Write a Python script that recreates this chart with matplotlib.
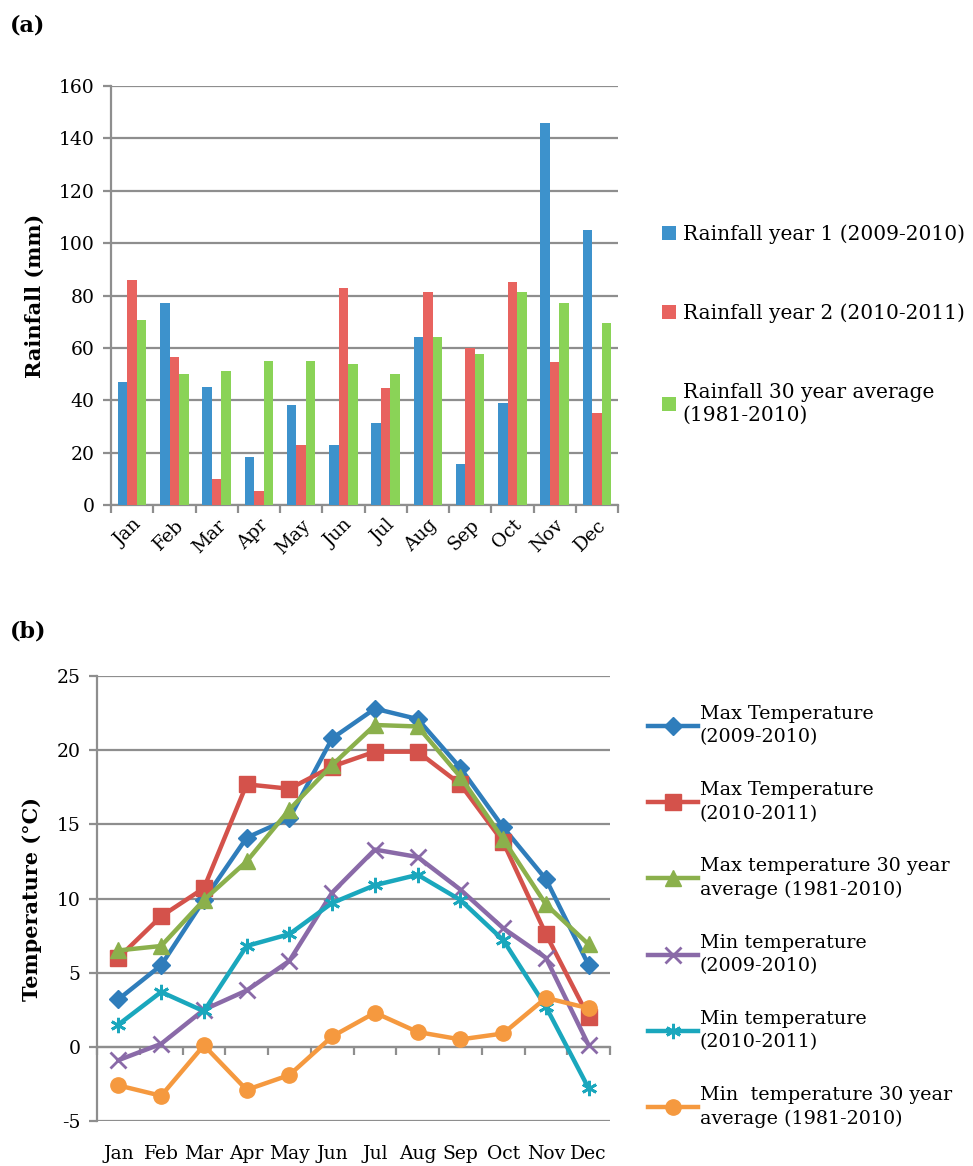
import matplotlib
matplotlib.use("Agg")
import matplotlib.pyplot as plt
import matplotlib.transforms as mtransforms
import numpy as np

plt.rcParams['font.family'] = ['DejaVu Serif']
plt.rcParams['axes.unicode_minus'] = False

months = ['Jan', 'Feb', 'Mar', 'Apr', 'May', 'Jun', 'Jul', 'Aug', 'Sep', 'Oct', 'Nov', 'Dec']

# panel (a) rainfall, mm
rain_y1 = [47, 77, 45, 18.5, 38, 23, 31.5, 64, 15.5, 39, 146, 105]
rain_y2 = [86, 56.5, 10, 5.5, 23, 83, 44.5, 81.5, 60, 85, 54.5, 35]
rain_avg = [70.5, 50, 51, 55, 55, 54, 50, 64, 57.5, 81.5, 77, 69.5]
rain_labels = ['Rainfall year 1 (2009-2010)', 'Rainfall year 2 (2010-2011)',
               'Rainfall 30 year average\n(1981-2010)']

# panel (b) temperature, degC
tmax_y1 = [3.2, 5.5, 9.9, 14.1, 15.4, 20.8, 22.8, 22.1, 18.8, 14.8, 11.3, 5.5]
tmax_y2 = [6.0, 8.8, 10.7, 17.7, 17.4, 18.9, 19.9, 19.9, 17.7, 13.8, 7.6, 2.0]
tmax_avg = [6.5, 6.8, 9.9, 12.5, 16.0, 19.0, 21.7, 21.6, 18.2, 14.0, 9.6, 6.9]
tmin_y1 = [-0.9, 0.2, 2.5, 3.8, 5.8, 10.4, 13.3, 12.8, 10.6, 8.0, 6.0, 0.1]
tmin_y2 = [1.5, 3.7, 2.4, 6.8, 7.6, 9.7, 10.9, 11.6, 9.9, 7.2, 2.7, -2.8]
tmin_avg = [-2.6, -3.3, 0.1, -2.9, -1.9, 0.7, 2.3, 1.0, 0.5, 0.9, 3.3, 2.6]
temp_labels = ['Max Temperature\n(2009-2010)', 'Max Temperature\n(2010-2011)',
               'Max temperature 30 year\naverage (1981-2010)',
               'Min temperature\n(2009-2010)', 'Min temperature\n(2010-2011)',
               'Min  temperature 30 year\naverage (1981-2010)']

grid_col = '#8e8e8e'
fig = plt.figure(figsize=(9.73, 11.66), dpi=100)

# ---------- (a) ----------
ax1 = fig.add_axes([0.1141, 0.5669, 0.5211, 0.3593])
x = np.arange(len(months))
w = 0.225
bar_cols = ['#3d92cc', '#e8635f', '#8ad357']
for k, (vals, lab) in enumerate(zip([rain_y1, rain_y2, rain_avg], rain_labels)):
    ax1.bar(x + (k - 1) * w, vals, width=w, color=bar_cols[k], label=lab, zorder=3)
ax1.set_xlim(-0.5, 11.5)
ax1.set_ylim(0, 160)
ax1.set_yticks(np.arange(0, 161, 20))
ax1.yaxis.grid(True, color=grid_col, lw=1.6, zorder=0)
for s in ['top', 'right']:
    ax1.spines[s].set_visible(False)
for s in ['left', 'bottom']:
    ax1.spines[s].set_color(grid_col)
    ax1.spines[s].set_linewidth(1.6)
ax1.set_xticks(x)
ax1.set_xticklabels(months, rotation=45, ha='right', rotation_mode='anchor', fontsize=13.5)
ax1.set_xticks(np.arange(-0.5, 12, 1), minor=True)
ax1.tick_params(axis='x', which='major', length=0, pad=8)
ax1.tick_params(axis='x', which='minor', length=6, width=1.6, color=grid_col, direction='out')
ax1.tick_params(axis='y', length=6, width=1.6, color=grid_col, labelsize=13.5, pad=6)
ax1.set_ylabel('Rainfall (mm)', fontsize=15, fontweight='bold', labelpad=10)
leg1 = ax1.legend(loc='center left', bbox_to_anchor=(1.05, 0.43), frameon=False, fontsize=14.5,
                  handlelength=0.7, handleheight=0.7, handletextpad=0.35, labelspacing=2.95)
for t in leg1.get_texts():
    t.set_linespacing(1.3)
fig.text(0.010, 0.978, '(a)', fontsize=16, fontweight='bold', va='center')

# ---------- (b) ----------
ax2 = fig.add_axes([0.0997, 0.0386, 0.5273, 0.3816])
series = [tmax_y1, tmax_y2, tmax_avg, tmin_y1, tmin_y2, tmin_avg]
line_cols = ['#2f7dbb', '#d4524b', '#8bb04c', '#8a6aa8', '#1aa7bd', '#f5993f']
markers = ['D', 's', '^', 'x', (6, 2, 0), 'o']
msizes = [9, 11, 11, 11, 11, 11]
for vals, lab, c, m, ms in zip(series, temp_labels, line_cols, markers, msizes):
    mew = 2 if m in ('x',) or isinstance(m, tuple) else 1
    ax2.plot(x, vals, color=c, lw=3.2, marker=m, markersize=ms, markeredgewidth=mew,
             markeredgecolor=c, label=lab, zorder=3)
ax2.set_xlim(-0.5, 11.5)
ax2.set_ylim(-5, 25)
ax2.set_yticks(np.arange(-5, 26, 5))
ax2.yaxis.grid(True, color=grid_col, lw=1.6, zorder=0)
for s in ['top', 'right']:
    ax2.spines[s].set_visible(False)
ax2.spines['bottom'].set_position(('data', 0))
for s in ['left', 'bottom']:
    ax2.spines[s].set_color(grid_col)
    ax2.spines[s].set_linewidth(1.6)
ax2.set_xticks(np.arange(-0.5, 12, 1))
ax2.set_xticklabels([])
ax2.tick_params(axis='x', length=6, width=1.6, color=grid_col, direction='out')
ax2.tick_params(axis='y', length=6, width=1.6, color=grid_col, labelsize=13.5, pad=6)
trans = mtransforms.blended_transform_factory(ax2.transData, ax2.transAxes)
for i, mth in enumerate(months):
    ax2.text(i, -0.055, mth, transform=trans, ha='center', va='top', fontsize=13.5)
ax2.set_ylabel('Temperature (°C)', fontsize=15, fontweight='bold', labelpad=10)
leg2 = ax2.legend(loc='center left', bbox_to_anchor=(1.04, 0.46), frameon=False, fontsize=13.8,
                  handlelength=2.6, handletextpad=0.1, labelspacing=1.8)
for t in leg2.get_texts():
    t.set_linespacing(1.4)
fig.text(0.010, 0.458, '(b)', fontsize=16, fontweight='bold', va='center')

fig.savefig('out.png', dpi=100)
